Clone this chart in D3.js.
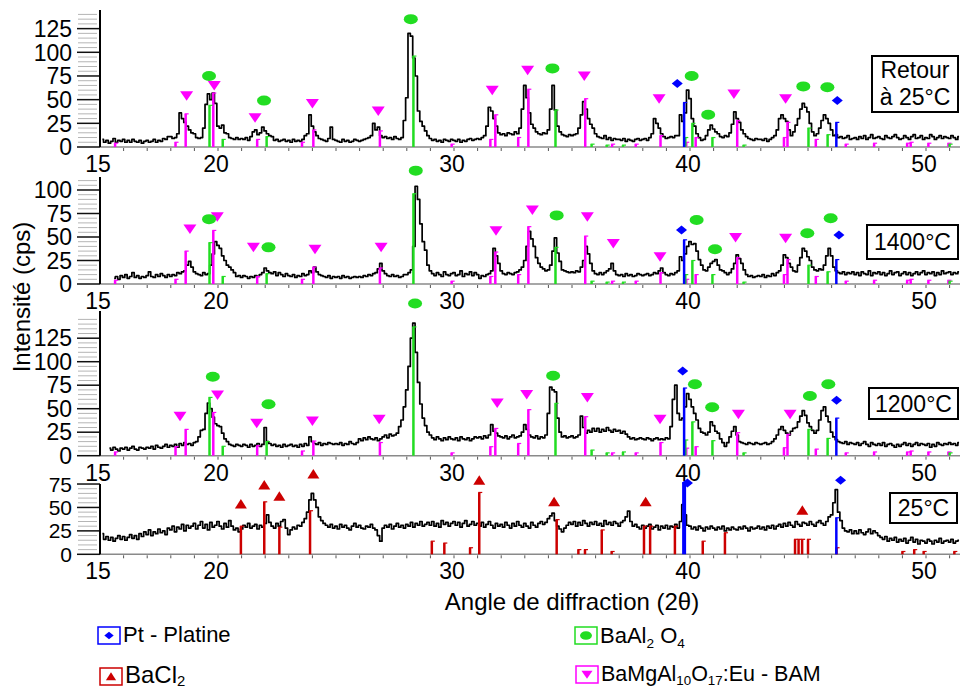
<!DOCTYPE html>
<html><head><meta charset="utf-8">
<script src="https://cdn.jsdelivr.net/npm/d3@7/dist/d3.min.js"></script>
<style>
body{margin:0;background:#fff}
svg{display:block;font-family:"Liberation Sans",Arial,sans-serif}
</style>
</head><body>
<svg id="chart" width="960" height="692"></svg>
<script>
// ---------------- DATA ----------------
const angleStep = 0.1;
const xTickLabels = [15, 20, 30, 40, 50];
const panelNames = [["Retour", "à 25°C"], ["1400°C"], ["1200°C"], ["25°C"]];

// measured patterns (cps), sampled every 0.1° from the start angle
const startRetour = 15.1;
const traceRetour = [8,5,7,4,6,9,5,7,6,
 8,5,7,5,8,6,5,7,4,6, 7,5,6,8,5,7,6,9,8,11, 11,9,10,14,36,30,26,22,18,15,
 14,10,9,10,20,45,56,50,57,46, 22,20,23,15,14,10,9,8,10,8, 9,8,10,7,11,16,18,13,15,21,
 17,14,12,11,7,8,6,7,8,6, 7,5,8,6,7,6,8,12,14,34, 22,16,12,9,8,7,6,9,21,8,
 7,6,5,8,6,7,5,6,8,7, 6,7,8,9,10,12,25,18,21,12, 10,11,9,10,8,11,9,8,10,28,
 52,120,117,94,75,38,27,22,17,12, 9,7,8,6,7,5,8,7,6,8, 7,6,8,5,7,6,8,9,7,8,
 9,8,10,12,22,42,38,30,22,15, 13,14,12,15,14,13,16,14,20,40, 65,52,36,24,20,16,14,13,15,14,
 18,40,65,39,22,16,13,12,11,13, 12,13,14,20,34,48,40,30,24,20, 14,11,10,9,12,8,10,7,9,8,
 8,7,9,6,8,7,6,8,9,7, 8,9,7,10,14,30,25,20,14,11, 9,10,11,10,12,12,34,27,36,60,
 51,30,22,14,10,7,8,12,18,23, 19,16,14,11,10,12,11,15,24,37, 30,26,18,14,11,9,8,7,9,8,
 8,7,9,6,8,10,12,18,30,34, 30,27,18,12,16,23,30,40,46,42, 37,25,16,12,14,20,28,34,30,25,
 18,12,13,10,11,9,10,12,8,9, 10,8,11,9,12,8,10,13,9,10, 11,9,8,12,10,9,11,13,10,8,
 9,12,10,8,11,13,9,10,12,8, 10,9,13,11,8,10,12,9,11,10, 9,12,10,8,11];

const start1400 = 15.6;
const trace1400 = [6,8,5,9,
 7,10,6,8,12,7,9,6,8,7, 9,13,8,7,10,8,11,9,7,10, 8,10,9,12,11,13,14,20,24,18,
 13,11,10,9,12,10,11,20,32,45, 41,38,30,25,20,18,15,12,8,9, 7,9,8,6,8,7,9,8,10,12,
 17,14,12,11,13,9,12,10,8,11, 9,8,10,7,9,8,11,9,10,14, 12,18,13,10,9,8,7,9,6,8,
 7,8,6,9,7,8,6,7,8,7, 8,7,9,8,10,9,11,12,16,22, 14,11,9,8,10,8,9,7,8,10,
 10,12,15,40,104,90,64,45,36,20, 14,11,9,12,10,8,13,10,9,11, 12,9,10,14,8,11,10,13,9,12,
 10,6,9,8,10,11,14,38,30,22, 14,11,10,12,11,10,12,13,15,18, 25,40,56,48,40,28,22,18,16,14,
 15,20,35,49,33,24,15,14,13,12, 13,12,14,13,18,25,40,32,22,14, 11,10,12,10,12,14,16,22,14,10,
 9,10,8,11,9,10,8,9,11,10, 9,10,11,9,10,12,11,14,17,12, 10,9,11,10,12,14,29,25,32,40,
 45,42,43,35,26,20,15,14,18,22, 24,26,20,15,14,12,10,12,16,22, 31,27,22,15,10,8,9,7,8,9,
 8,10,7,9,8,11,9,12,14,20, 31,28,22,18,14,13,20,28,38,35, 29,25,18,15,14,16,15,20,30,38,
 30,18,14,12,11,13,10,12,11,13, 10,12,9,13,11,10,14,9,12,11, 13,10,12,9,11,14,10,12,13,9,
 11,13,10,12,9,11,13,10,12,14, 10,12,11,13,9,12,10,14,11,12, 13,10,12,11,13];

const start1200 = 15.4;
const trace1200 = [8,6,9,7,5,8,
 7,9,6,8,10,7,6,9,8,7, 9,8,10,7,11,9,8,10,12,9, 11,10,12,9,13,11,14,12,13,11,
 14,15,20,27,28,45,56,50,41,34, 32,31,24,18,15,12,11,10,12,11, 10,12,11,9,12,10,11,13,10,12,
 30,15,13,11,12,10,11,9,12,10, 11,12,10,11,9,12,10,13,11,20, 15,13,12,14,11,13,12,14,13,12,
 13,12,14,11,13,12,15,13,12,14, 18,16,19,17,20,18,17,19,16,18, 20,22,19,23,21,22,24,31,38,52,
 70,95,125,141,110,78,55,40,32,25, 22,19,17,20,18,16,19,17,20,18, 17,19,16,20,18,17,19,16,18,20,
 19,20,18,21,19,22,33,26,24,21, 20,19,21,18,20,22,19,20,21,25, 33,28,22,20,19,21,18,20,19,22,
 45,73,70,68,40,25,20,21,19,20, 21,19,20,22,42,30,24,27,25,29, 26,29,25,28,26,30,27,25,28,26,
 27,24,26,23,20,18,19,17,18,19, 18,17,19,18,16,18,19,17,18,17, 19,18,31,60,75,45,38,40,52,66,
 60,52,45,38,29,25,24,22,25,36, 32,26,24,18,14,10,14,20,26,31, 22,15,14,13,12,14,13,12,14,13,
 12,13,14,12,13,15,18,22,28,31, 27,24,22,26,29,30,36,42,48,43, 35,31,27,24,27,38,48,52,42,36,
 25,20,17,15,14,13,15,12,14,13, 12,14,11,13,15,12,10,14,12,11, 13,11,14,10,12,13,11,9,12,10,
 12,14,11,13,10,12,14,11,13,12, 11,13,9,12,10,14,12,11,13,12, 14,12,13,11,14];

const start25 = 15.1;
const trace25 = [22,16,19,15,18,14,17,20,16,
 19,15,18,21,17,20,16,22,19,24, 21,26,20,24,22,27,23,25,21,28, 26,30,24,29,27,32,25,31,28,30,
 33,27,31,35,28,32,26,34,29,31, 35,30,27,33,29,36,30,26,28,24, 27,31,29,33,28,30,32,27,31,29,
 33,42,34,30,28,33,30,35,37,28, 21,26,29,27,31,30,34,38,45,58, 65,58,50,40,36,33,31,29,32,28,
 30,27,32,29,31,28,26,30,33,29, 31,28,27,30,29,32,28,26,20,14, 28,31,29,32,27,30,33,29,31,28,
 32,30,34,29,33,31,35,30,32,34, 31,35,30,33,29,36,32,34,30,33, 35,31,34,29,33,36,30,32,35,31,
 33,30,34,29,32,35,31,28,33,30, 32,29,34,31,28,33,30,35,31,29, 33,30,28,34,31,29,33,35,32,34,
 38,41,44,36,30,27,24,28,31,34, 32,35,30,34,31,36,33,30,34,32, 35,31,33,30,36,32,34,31,35,33,
 30,34,36,40,46,35,30,32,29,27, 31,28,30,32,27,29,31,26,30,28, 31,27,30,29,32,28,35,53,42,31,
 30,27,29,26,30,28,25,29,27,30, 28,26,29,27,30,25,28,26,29,27, 26,29,27,30,28,25,29,27,28,30,
 27,29,26,30,28,31,27,30,32,29, 33,30,34,31,29,35,32,30,34,33, 31,35,32,30,34,36,33,31,35,40,
 42,55,69,45,36,28,25,24,26,22, 25,22,26,23,21,24,27,22,25,23, 20,18,16,19,14,17,15,18,13,16,
 14,17,12,15,18,13,16,11,15,14, 12,16,14,11,15,13,17,12,14,15, 13,16,12,14,15];

// reference patterns (stick positions, 2θ, and heights, cps)
const bamAngles = [15.64,18.2,18.63,19.8,21.66,23.56,24.04,26.86,29.9,31.54,31.75,32.72,33.15,35.56,36.7,37.7,38.75,39.84,40.24,42.0,43.98,44.13,45.33,46.6,47.8,49.2,49.35,50.1,50.95];
const bamHeightsA = [4,5,35,57,8,5,18,17,3,8,34,10,61,51,3,3,12,5,10,28,10,26,8,3,4,4,5,4,4];
const bamHeightsB = [4,9.6,28,46,10.6,5,15.6,14,3,9.6,29,13,49,41.5,3,3,14,8,9.6,24.5,8.5,22.7,7,3,4,4,5,4,4];
const baalAngles = [19.64,20.2,22.06,28.28,34.3,35.83,36.47,37.16,39.8,40.1,40.95,42.27,45.02,45.83,51.0];
const baalHeightsA = [44,8,11,96,39,3,2,2,10,25,10,2,20,13,3];
const baalHeightsB = [62,10,15,137,55.7,6,3,4,16.7,36,16,3,28,18.4,3];
const ptAngles = [39.75, 46.2];
const ptHeightsA = [47, 26];
const ptHeightsB = [72, 40];
const ptHeightsC = [77, 39];
const bacl2Angles = [20.97,21.96,22.6,23.9,29.06,29.59,30.68,31.07,34.35,35.27,35.55,36.26,36.68,38.05,38.31,39.36,40.54,41.48,44.45,44.6,44.75,45.0,46.21,49.0,49.5,49.9,51.2];
const bacl2Heights = [30,56,29,46.5,14,12,7,66,37,5,5,26,3,30,30,30,14,23,16,16,16,16,7,3,5,3,3];

// peak markers [2θ, cps]
const mkRetourBam = [[18.67,54],[19.84,65],[21.57,31],[24.0,46],[26.79,38],[31.62,60],[33.12,81],[35.52,75],[38.69,51],[41.86,56],[44.05,51]];
const mkRetourBaal = [[19.62,75],[21.95,49],[28.17,135],[34.17,83],[40.07,75],[40.77,34],[44.8,64],[45.82,63]];
const mkRetourPt = [[39.46,67],[46.24,49]];
const mk1400Bam = [[18.81,58.5],[19.97,71.6],[21.5,39],[24.11,37],[26.91,39],[31.78,56.7],[33.32,78.7],[35.65,71.6],[36.75,43],[38.73,29],[41.93,49.6],[44.05,48.6]];
const mk1400Baal = [[19.62,69],[22.14,39],[28.38,120.6],[34.35,73],[40.28,68],[41.06,37],[44.97,54],[45.96,70]];
const mk1400Pt = [[39.64,57.4],[46.31,52]];
const mk1200Bam = [[18.39,42],[19.98,64.6],[21.64,34.5],[24.0,37],[26.83,38.7],[31.83,56],[33.08,65],[35.65,62],[38.73,38.7],[42.05,44],[44.24,44]];
const mk1200Baal = [[19.78,84],[22.14,54.7],[28.35,162],[34.2,85],[40.21,76],[40.94,51.5],[45.08,63.5],[45.86,76]];
const mk1200Pt = [[39.69,90],[46.21,59]];
const mk25Bacl2 = [[20.97,53.7],[21.96,74],[22.6,62],[24.04,85.7],[31.07,79],[34.24,56],[38.12,56],[44.76,47]];
const mk25Pt = [[39.89,76],[46.38,79]];

const yTicksA = [0,25,50,75,100,125];
const yTicksB = [0,25,50,75,100];
const yTicksC = [0,25,50,75];

// ---------------- STYLE / LAYOUT ----------------
const COL = {bam:"#ff00ff", baal:"#22dd22", pt:"#0000ff", bacl2:"#cc0000"};
const svg = d3.select("#chart");
const x = d3.scaleLinear().domain([15, 51.44]).range([100, 960]);

const panels = [
  {y0:147, top:10, k:0.947, ticks:yTicksA, fs:23, start:startRetour, trace:traceRetour,
   sticks:[["bam",bamAngles,bamHeightsA],["baal",baalAngles,baalHeightsA],["pt",ptAngles,ptHeightsA]],
   marks:[["bam",mkRetourBam],["baal",mkRetourBaal],["pt",mkRetourPt]],
   box:{x:872,y:56,w:86,h:56}, name:panelNames[0]},
  {y0:284, top:177, k:0.94, ticks:yTicksB, fs:23, start:start1400, trace:trace1400,
   sticks:[["bam",bamAngles,bamHeightsA],["baal",baalAngles,baalHeightsA],["pt",ptAngles,ptHeightsA]],
   marks:[["bam",mk1400Bam],["baal",mk1400Baal],["pt",mk1400Pt]],
   box:{x:867,y:225,w:91,h:34}, name:panelNames[1]},
  {y0:455.7, top:311, k:0.94, ticks:yTicksA, fs:23, start:start1200, trace:trace1200,
   sticks:[["bam",bamAngles,bamHeightsB],["baal",baalAngles,baalHeightsB],["pt",ptAngles,ptHeightsB]],
   marks:[["bam",mk1200Bam],["baal",mk1200Baal],["pt",mk1200Pt]],
   box:{x:869,y:388,w:89,h:31}, name:panelNames[2]},
  {y0:554.3, top:484, k:0.937, ticks:yTicksC, fs:21, start:start25, trace:trace25,
   sticks:[["bacl2",bacl2Angles,bacl2Heights],["pt",ptAngles,ptHeightsC]],
   marks:[["bacl2",mk25Bacl2],["pt",mk25Pt]],
   box:{x:890,y:493,w:67,h:30}, name:panelNames[3]}
];

function marker(g, type, cx, cy, s) {
  s = s || 1;
  if (type === "baal") {
    g.append("ellipse").attr("cx",cx).attr("cy",cy).attr("rx",7*s).attr("ry",5*s).attr("fill",COL.baal);
  } else if (type === "bam") {
    g.append("path").attr("d",`M${cx-6.5*s},${cy-4.5*s}L${cx+6.5*s},${cy-4.5*s}L${cx},${cy+5*s}Z`).attr("fill",COL.bam);
  } else if (type === "bacl2") {
    g.append("path").attr("d",`M${cx-6*s},${cy+4.5*s}L${cx+6*s},${cy+4.5*s}L${cx},${cy-5*s}Z`).attr("fill",COL.bacl2);
  } else {
    g.append("path").attr("d",`M${cx-5.5*s},${cy}L${cx},${cy-4.5*s}L${cx+5.5*s},${cy}L${cx},${cy+4.5*s}Z`).attr("fill",COL.pt);
  }
}

panels.forEach((p, pi) => {
  const yMax = (p.y0 - p.top) / p.k;
  const y = d3.scaleLinear().domain([0, yMax]).range([p.y0, p.top]);
  const g = svg.append("g");

  g.append("line").attr("x1",100).attr("x2",960).attr("y1",p.y0).attr("y2",p.y0)
    .attr("stroke","#8a8a8a").attr("stroke-width",1.5);
  d3.range(16, 52).forEach(a => {
    g.append("line").attr("x1",x(a)).attr("x2",x(a)).attr("y1",p.y0+1).attr("y2",p.y0+4)
      .attr("stroke","#555").attr("stroke-width",1);
  });
  xTickLabels.forEach(a => {
    g.append("text").attr("x",x(a)-2).attr("y",p.y0+25).attr("text-anchor","middle")
      .attr("font-size",23).text(a);
  });
  d3.range(0, yMax, 5).forEach(v => {
    if (v % 25 !== 0) g.append("line").attr("x1",78).attr("x2",97).attr("y1",y(v)).attr("y2",y(v))
      .attr("stroke","#b5b5b5").attr("stroke-width",1);
  });
  p.ticks.forEach(v => {
    g.append("line").attr("x1",77).attr("x2",100).attr("y1",y(v)).attr("y2",y(v))
      .attr("stroke","#111").attr("stroke-width",1.5);
    g.append("text").attr("x",72).attr("y",y(v)).attr("dy","0.36em").attr("text-anchor","end")
      .attr("font-size",p.fs).text(v);
  });
  g.append("line").attr("x1",100).attr("x2",100).attr("y1",p.top).attr("y2",p.y0)
    .attr("stroke","#000").attr("stroke-width",2);

  const pts = p.trace.map((v, i) => [p.start + i * angleStep, v]);
  const line = d3.line().x(d => x(d[0])).y(d => y(d[1])).curve(d3.curveStep);
  g.append("path").attr("d", line(pts)).attr("fill","none").attr("stroke","#000")
    .attr("stroke-width",1.7).attr("stroke-linejoin","round");

  p.sticks.forEach(([type, angs, hs]) => {
    angs.forEach((a, i) => {
      const xs = x(a), yt = y(hs[i]);
      const w = (pi === 3 && type === "pt" && i === 0) ? 4 : 2.5;
      g.append("line").attr("x1",xs).attr("x2",xs).attr("y1",p.y0).attr("y2",yt)
        .attr("stroke",COL[type]).attr("stroke-width",w);
      g.append("line").attr("x1",xs-1).attr("x2",xs+3).attr("y1",yt).attr("y2",yt)
        .attr("stroke",COL[type]).attr("stroke-width",1.2);
    });
  });

  p.marks.forEach(([type, list]) => {
    list.forEach(([a, v]) => marker(g, type, x(a), y(v)));
  });

  g.append("rect").attr("x",p.box.x).attr("y",p.box.y).attr("width",p.box.w).attr("height",p.box.h)
    .attr("fill","#fff").attr("stroke","#000").attr("stroke-width",2);
  const cx = p.box.x + p.box.w/2;
  if (p.name.length === 2) {
    g.append("text").attr("x",cx).attr("y",p.box.y+22).attr("text-anchor","middle").attr("font-size",23).text(p.name[0]);
    g.append("text").attr("x",cx).attr("y",p.box.y+49).attr("text-anchor","middle").attr("font-size",23).text(p.name[1]);
  } else {
    g.append("text").attr("x",cx).attr("y",p.box.y+p.box.h/2).attr("dy","0.36em").attr("text-anchor","middle")
      .attr("font-size",23).text(p.name[0]);
  }
});

svg.append("text").attr("transform","translate(30,297) rotate(-90)").attr("text-anchor","middle")
  .attr("font-size",24).text("Intensité (cps)");
svg.append("text").attr("x",572).attr("y",610).attr("text-anchor","middle")
  .attr("font-size",24).text("Angle de diffraction (2θ)");

// legend
const legend = [
  {type:"pt", x:98, y:627, base:642, size:22, sub:5, parts:[["Pt - Platine",0]]},
  {type:"bacl2", x:100, y:668, base:683, size:24, sub:3, parts:[["BaCl",0],["2",1]]},
  {type:"baal", x:575, y:627, base:643, size:22, sub:5, parts:[["BaAl",0],["2",1],[" O",0],["4",1]]},
  {type:"bam", x:576, y:666, base:681, size:21.5, sub:4, parts:[["BaMgAl",0],["10",1],["O",0],["17",1],[":Eu - BAM",0]]}
];
legend.forEach(L => {
  const lg = svg.append("g");
  lg.append("rect").attr("x",L.x).attr("y",L.y).attr("width",22).attr("height",17)
    .attr("fill","#fff").attr("stroke",COL[L.type]).attr("stroke-width",1.5);
  marker(lg, L.type, L.x+11, L.y+8.5, 0.85);
  const t = lg.append("text").attr("x",L.x+25).attr("y",L.base).attr("font-size",L.size);
  let prevSub = 0;
  L.parts.forEach(([s, sub]) => {
    const dy = sub === prevSub ? 0 : (sub ? L.sub : -L.sub);
    const ts = t.append("tspan").attr("dy",dy).text(s);
    if (sub) ts.attr("font-size",L.size*0.62);
    prevSub = sub;
  });
});
</script>
</body></html>
